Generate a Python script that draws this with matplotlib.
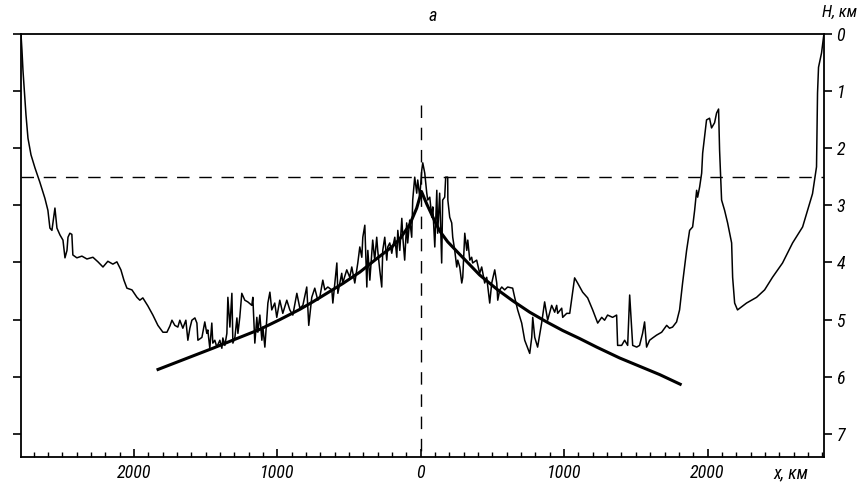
import matplotlib
matplotlib.use("Agg")
import matplotlib.pyplot as plt
import numpy as np
from matplotlib import font_manager
from matplotlib.ticker import MultipleLocator, FuncFormatter

# depth profile across the ridge, x in km (left side negative), H in km
prof_x = [-2788, -2781, -2774, -2760, -2753, -2739, -2718, -2690, -2656, -2621,
          -2600, -2586, -2572, -2558, -2551, -2537, -2516, -2495, -2481, -2467,
          -2460, -2447, -2433, -2426, -2398, -2363, -2328, -2286, -2251, -2216,
          -2182, -2147, -2119, -2091, -2070, -2049, -2014, -1979, -1959, -1938,
          -1903, -1868, -1833, -1798, -1770, -1749, -1735, -1715, -1694, -1680,
          -1659, -1638, -1624, -1610, -1596, -1575, -1561, -1554, -1526, -1506,
          -1492, -1485, -1471, -1457, -1450, -1436, -1422, -1401, -1387, -1380,
          -1366, -1352, -1345, -1331, -1317, -1310, -1296, -1282, -1275, -1262,
          -1248, -1227, -1206, -1178, -1171, -1157, -1143, -1136, -1122, -1108,
          -1101, -1087, -1066, -1052, -1039, -1018, -1004, -983, -962, -934,
          -913, -892, -864, -843, -822, -795, -781, -760, -739, -718,
          -704, -683, -669, -648, -620, -613, -585, -578, -551, -544,
          -516, -495, -481, -460, -439, -425, -411, -404, -390, -376,
          -369, -355, -335, -321, -307, -300, -286, -272, -265, -251,
          -237, -230, -216, -202, -195, -181, -167, -160, -146, -132,
          -125, -112, -98, -91, -77, -63, -56, -42, -28, -21,
          -7, 7, 14, 28, 42, 49, 63, 77, 84, 98,
          112, 118, 132, 146, 153, 167, 174, 188, 189, 202,
          216, 223, 237, 251, 258, 272, 286, 293, 307, 321,
          328, 342, 355, 362, 390, 411, 425, 446, 460, 481,
          495, 516, 530, 537, 551, 565, 585, 606, 641, 655,
          676, 704, 725, 760, 774, 781, 795, 815, 843, 864,
          885, 913, 934, 948, 955, 983, 990, 1018, 1039, 1073,
          1094, 1129, 1164, 1199, 1234, 1262, 1282, 1303, 1338, 1366,
          1373, 1401, 1422, 1443, 1457, 1478, 1506, 1526, 1547, 1561,
          1575, 1596, 1617, 1645, 1680, 1715, 1735, 1756, 1784, 1805,
          1826, 1854, 1875, 1896, 1910, 1924, 1931, 1945, 1959, 1966,
          1979, 1993, 2014, 2028, 2049, 2063, 2077, 2084, 2098, 2119,
          2140, 2168, 2175, 2189, 2209, 2272, 2342, 2398, 2453, 2523,
          2593, 2663, 2732, 2760, 2767, 2774, 2795, 2812]
prof_h = [0.0, 0.29, 0.64, 1.16, 1.42, 1.83, 2.12, 2.35, 2.60, 2.88,
          3.09, 3.40, 3.44, 3.17, 3.05, 3.40, 3.52, 3.61, 3.92, 3.79,
          3.56, 3.49, 3.51, 3.87, 3.92, 3.89, 3.94, 3.91, 3.99, 4.08,
          3.98, 4.03, 3.99, 4.13, 4.31, 4.45, 4.48, 4.61, 4.66, 4.62,
          4.76, 4.92, 5.10, 5.22, 5.22, 5.11, 5.01, 5.10, 5.13, 5.01,
          5.15, 5.01, 5.36, 5.15, 5.01, 4.97, 5.06, 5.36, 5.31, 5.04,
          5.24, 5.18, 5.50, 5.06, 5.41, 5.36, 5.48, 5.36, 5.50, 5.32,
          5.45, 5.24, 4.61, 5.13, 4.54, 5.41, 5.31, 4.97, 5.24, 4.96,
          4.54, 4.66, 4.69, 4.75, 4.61, 5.41, 4.96, 5.22, 4.92, 5.36,
          5.13, 5.48, 4.71, 4.52, 4.83, 4.71, 4.96, 4.66, 4.89, 4.66,
          4.83, 4.92, 4.54, 4.80, 4.75, 4.43, 5.10, 4.61, 4.45, 4.66,
          4.61, 4.31, 4.48, 4.43, 4.48, 4.71, 4.01, 4.54, 4.19, 4.36,
          4.13, 4.26, 4.08, 4.36, 4.01, 3.73, 3.91, 3.56, 3.35, 4.43,
          3.79, 4.31, 3.61, 3.96, 3.56, 3.79, 4.13, 4.43, 3.79, 3.56,
          3.96, 3.73, 3.66, 3.84, 3.73, 3.56, 3.91, 3.44, 3.79, 3.23,
          3.56, 3.96, 3.31, 3.66, 3.26, 3.56, 2.91, 2.51, 2.79, 2.56,
          2.86, 2.39, 2.26, 2.44, 2.79, 2.91, 2.86, 3.21, 3.03, 3.73,
          2.74, 3.49, 2.79, 4.01, 2.91, 2.86, 2.51, 2.51, 2.91, 3.21,
          3.31, 3.56, 3.79, 4.08, 3.96, 4.08, 4.36, 4.26, 3.49, 3.79,
          3.61, 3.96, 3.91, 4.01, 3.96, 4.19, 4.08, 4.36, 4.26, 4.71,
          4.36, 4.13, 4.36, 4.66, 4.48, 4.43, 4.48, 4.43, 4.45, 4.61,
          4.83, 5.06, 5.36, 5.59, 5.31, 4.96, 5.31, 5.48, 5.06, 4.69,
          5.01, 4.75, 4.87, 4.75, 4.89, 4.80, 4.96, 4.89, 4.89, 4.27,
          4.36, 4.52, 4.62, 4.83, 5.06, 4.96, 5.01, 4.92, 4.96, 4.92,
          5.45, 5.45, 5.36, 5.45, 4.57, 5.45, 5.48, 5.45, 5.24, 5.04,
          5.48, 5.36, 5.32, 5.27, 5.22, 5.10, 5.15, 5.13, 5.04, 4.83,
          4.36, 3.79, 3.44, 3.38, 3.09, 2.74, 2.86, 2.68, 2.44, 2.09,
          1.81, 1.51, 1.48, 1.65, 1.56, 1.39, 1.32, 2.04, 2.91, 3.09,
          3.31, 3.66, 4.26, 4.71, 4.83, 4.71, 4.61, 4.48, 4.26, 4.01,
          3.66, 3.38, 2.80, 2.33, 1.04, 0.59, 0.34, 0.0]

# smooth model curve
fit_x = [-1842, -1450, -1282, -1122, -983, -843, -753, -544, -425, -300,
         -202, -146, -77, -28, 5, 42, 98, 132, 188, 272,
         307, 411, 537, 641, 760, 878, 990, 1108, 1227, 1387,
         1666, 1819]
fit_h = [5.88, 5.50, 5.33, 5.17, 5.00, 4.82, 4.69, 4.37, 4.17, 3.92,
         3.73, 3.59, 3.34, 3.05, 2.76, 2.98, 3.28, 3.45, 3.64, 3.86,
         3.95, 4.22, 4.48, 4.67, 4.87, 5.04, 5.19, 5.33, 5.48, 5.67,
         5.96, 6.14]

level_h = 2.5
axis_top = 1.25

# narrow italic font if any is installed
names = {f.name for f in font_manager.fontManager.ttflist}
fam, fs = "DejaVu Sans", 11
for cand in ["Liberation Sans Narrow", "Roboto Condensed", "DejaVu Sans Condensed",
             "Open Sans Condensed"]:
    if cand in names:
        fam, fs = cand, 13
        break
plt.rcParams["font.family"] = fam
plt.rcParams["font.style"] = "italic"

fig = plt.figure(figsize=(8.61, 4.95), dpi=100)
ax = fig.add_axes([0.024, 0.0768, 0.933, 0.8555])

ax.plot(prof_x, prof_h, color="black", lw=1.1)
ax.plot(fit_x, fit_h, color="black", lw=2.2, solid_capstyle="butt")

ax.axhline(level_h, color="black", lw=1.0, dashes=(9, 7))
ax.plot([0, 0], [axis_top, 7.4], color="black", lw=1.0, dashes=(9, 7))

ax.set_xlim(-2790, 2812)
ax.set_ylim(7.4, 0)

for s in ax.spines.values():
    s.set_linewidth(1.3)

ax.xaxis.set_major_locator(MultipleLocator(1000))
ax.xaxis.set_minor_locator(MultipleLocator(100))
ax.xaxis.set_major_formatter(FuncFormatter(lambda v, p: "%d" % abs(v)))
ax.tick_params(axis="x", which="major", direction="in", length=6, width=1.2,
               labelsize=fs, pad=5, top=False)
ax.tick_params(axis="x", which="minor", direction="in", length=3.5, width=1.0,
               top=False)

ax.yaxis.set_major_locator(MultipleLocator(1))
ax.tick_params(axis="y", direction="out", length=6, width=1.2, left=True,
               right=True, labelleft=False, labelright=True, labelsize=fs, pad=3)

fig.text(0.502, 0.968, "a", ha="center", va="center", fontsize=fs)
fig.text(0.975, 0.975, "H, км", ha="center", va="center", fontsize=fs - 1)
fig.text(0.918, 0.044, "x, км", ha="center", va="center", fontsize=fs)

fig.savefig("out.png", dpi=100)
